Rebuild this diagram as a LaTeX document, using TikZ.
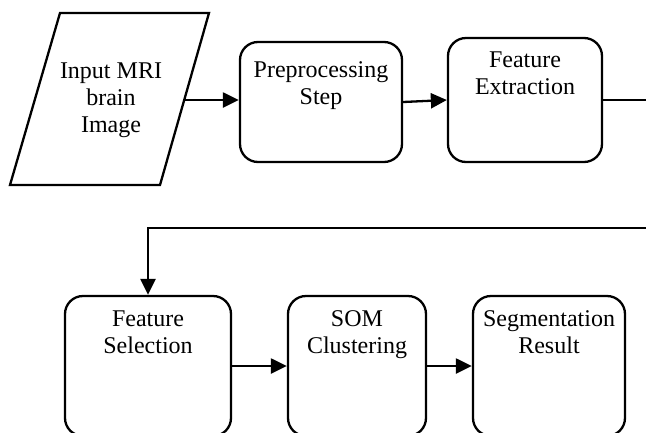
\documentclass[tikz,border=0pt]{standalone}
\usepackage{fontspec}
\setmainfont{Liberation Serif}
\usetikzlibrary{arrows.meta}

\tikzset{
  procbox/.style={draw, line width=2.3pt, rounded corners=18pt},
  boxtext/.style={anchor=north, inner sep=0pt, align=center,
    font=\fontsize{24}{27}\selectfont},
  arr/.style={line width=2.3pt, -{Triangle[length=16pt,width=15pt]}},
}

\begin{document}
\begin{tikzpicture}[x=1pt,y=-1pt]
	\clip (0,0) rectangle (646,432);
	% top row
	\draw[line width=2.3pt] (60,13) -- (209,13) -- (160,185) -- (10,185) -- cycle;
	\node[boxtext, anchor=center] (img) at (111,100) {Input MRI\\brain\\Image};
	\coordinate (img-e) at (184.5,100);
	\node[procbox, minimum width=162pt, minimum height=120pt] (pre) at (321,102) {};
	\node[boxtext] (pre-txt) at ([yshift=-21pt]pre.north) {Preprocessing\\Step};
	\node[procbox, minimum width=154pt, minimum height=124pt] (fe) at (525,100) {};
	\node[boxtext] (fe-txt) at ([yshift=-15pt]fe.north) {Feature\\Extraction};
	% bottom row
	\node[procbox, minimum width=166pt, minimum height=140pt] (fs) at (148,366) {};
	\node[boxtext] (fs-txt) at ([yshift=-16pt]fs.north) {Feature\\Selection};
	\node[procbox, minimum width=138pt, minimum height=140pt] (som) at (357,366) {};
	\node[boxtext] (som-txt) at ([yshift=-16pt]som.north) {SOM\\Clustering};
	\node[procbox, minimum width=152pt, minimum height=140pt] (seg) at (549,366) {};
	\node[boxtext] (seg-txt) at ([yshift=-16pt]seg.north) {Segmentation\\Result};
	% connectors
	\coordinate (turn) at (700,228);
	\draw[arr] (img-e) -- (img-e -| pre.west);
	\draw[arr] (pre.east) -- (fe.west);
	\draw[arr] (fe.east) -| (turn) -| (fs.north);
	\draw[arr] (fs.east) -- (som.west);
	\draw[arr] (som.east) -- (seg.west);
\end{tikzpicture}
\end{document}
